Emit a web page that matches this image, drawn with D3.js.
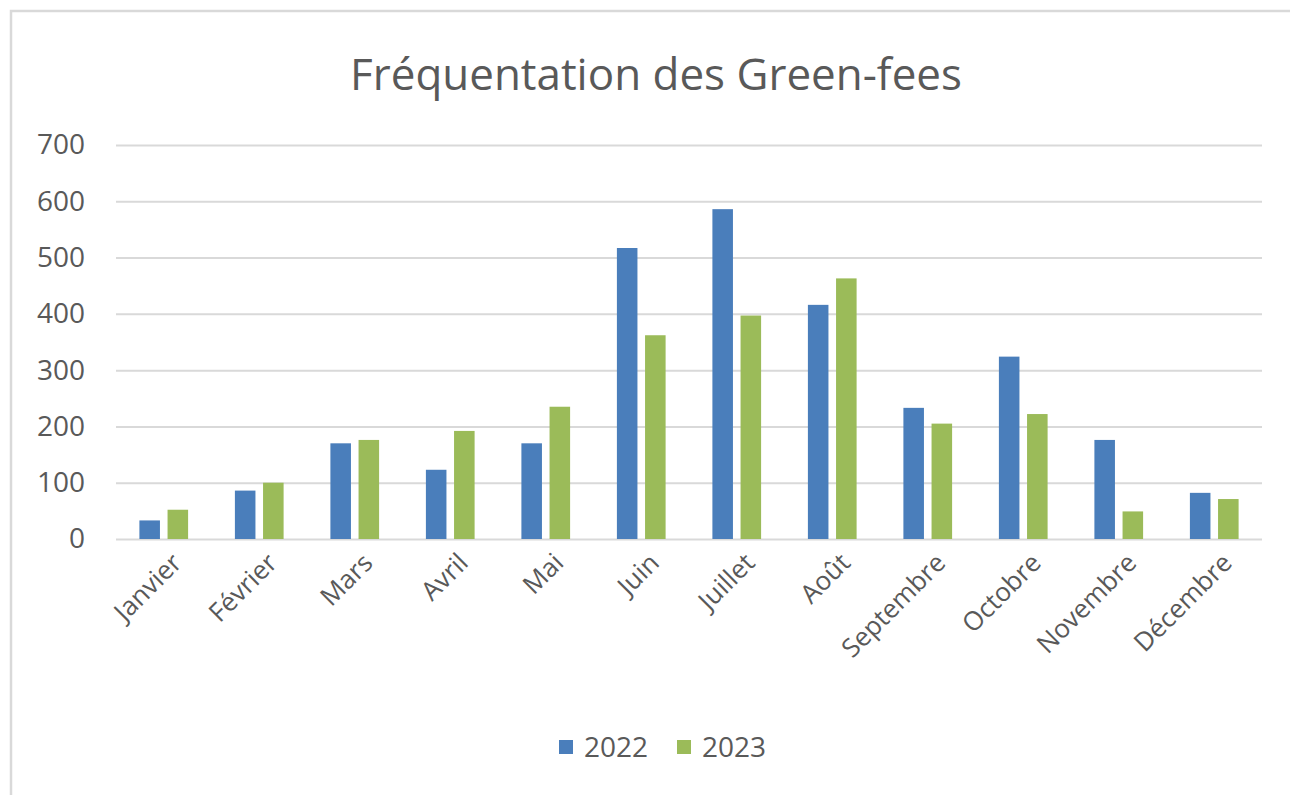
<!DOCTYPE html>
<html>
<head>
<meta charset="utf-8">
<script src="https://cdn.jsdelivr.net/npm/d3@7"></script>
<style>
  body { margin: 0; background: #fff; }
  text { font-family: "Open Sans", sans-serif; fill: #595959; }
</style>
</head>
<body>
<div id="chart"></div>
<script>
// Data
const MONTHS = ["Janvier", "Février", "Mars", "Avril", "Mai", "Juin",
                "Juillet", "Août", "Septembre", "Octobre", "Novembre", "Décembre"];
const SERIES = ["2022", "2023"];
const VALUES_2022 = [33, 86, 170, 123, 170, 517, 586, 416, 233, 324, 176, 82];
const VALUES_2023 = [52, 100, 176, 192, 235, 362, 397, 463, 205, 222, 49, 71];
const Y_TICKS = [0, 100, 200, 300, 400, 500, 600, 700];
const TITLE = "Fréquentation des Green-fees";

const COLORS = {"2022": "#4a7ebb", "2023": "#9bbb59"};

// Set variables
const FRAME_WIDTH = 1290;
const FRAME_HEIGHT = 795;
const MARGINS = {left: 116, right: 28, top: 145, bottom: 256};
const VIS_WIDTH = FRAME_WIDTH - MARGINS.left - MARGINS.right;
const VIS_HEIGHT = FRAME_HEIGHT - MARGINS.top - MARGINS.bottom;

const rows = MONTHS.map((m, i) => ({month: m, "2022": VALUES_2022[i], "2023": VALUES_2023[i]}));

const FRAME = d3.select("#chart")
                .append("svg")
                  .attr("width", FRAME_WIDTH)
                  .attr("height", FRAME_HEIGHT);

// chart border
FRAME.append("rect")
    .attr("x", 11).attr("y", 11)
    .attr("width", FRAME_WIDTH + 20).attr("height", FRAME_HEIGHT + 20)
    .attr("fill", "#fff")
    .attr("stroke", "#d9d9d9")
    .attr("stroke-width", 2.5);

const X_SCALE = d3.scaleBand()
                  .domain(MONTHS)
                  .range([0, VIS_WIDTH])
                  .paddingInner(0.49)
                  .paddingOuter(0.245);

const X_INNER = d3.scaleBand()
                  .domain(SERIES)
                  .range([0, X_SCALE.bandwidth()])
                  .paddingInner(0.27);

const Y_SCALE = d3.scaleLinear()
                  .domain([0, 700])
                  .range([VIS_HEIGHT, 0]);

const G = FRAME.append("g")
    .attr("transform", "translate(" + MARGINS.left + "," + MARGINS.top + ")");

// gridlines
G.append("g")
    .call(d3.axisLeft(Y_SCALE).tickValues(Y_TICKS).tickSize(-VIS_WIDTH).tickFormat(""))
    .call(g => g.select(".domain").remove())
    .selectAll("line")
      .attr("stroke", "#d9d9d9")
      .attr("stroke-width", 2);

// y labels
G.append("g")
    .call(d3.axisLeft(Y_SCALE).tickValues(Y_TICKS).tickSize(0).tickPadding(31))
    .call(g => g.select(".domain").remove())
    .selectAll("text")
      .attr("font-size", "28px")
      .style("font-family", "'Open Sans', sans-serif")
      .attr("fill", "#595959");

// bars
G.selectAll(".month")
    .data(rows)
    .enter()
    .append("g")
      .attr("transform", (d) => "translate(" + X_SCALE(d.month) + ",0)")
    .selectAll("rect")
    .data((d) => SERIES.map((s) => ({key: s, value: d[s]})))
    .enter()
    .append("rect")
      .attr("x", (d) => X_INNER(d.key))
      .attr("y", (d) => Y_SCALE(d.value))
      .attr("width", X_INNER.bandwidth())
      .attr("height", (d) => VIS_HEIGHT - Y_SCALE(d.value))
      .attr("fill", (d) => COLORS[d.key]);

// x labels
G.selectAll(".xlabel")
    .data(MONTHS)
    .enter()
    .append("text")
      .attr("class", "xlabel")
      .attr("transform", (d) => "translate(" + (X_SCALE(d) + X_SCALE.bandwidth() / 2 + 13) + "," + (VIS_HEIGHT + 19) + ") rotate(-45)")
      .attr("text-anchor", "end")
      .attr("dy", "0.35em")
      .attr("font-size", "26px")
      .text((d) => d);

// title
const title = FRAME.append("text")
    .attr("x", 656)
    .attr("y", 90)
    .attr("text-anchor", "middle")
    .attr("font-size", "40px")
    .text(TITLE);
const tw = title.node().getComputedTextLength();
title.attr("font-size", (40 * 612 / tw) + "px");

// legend
const legend = FRAME.append("g")
    .attr("transform", "translate(559,747)");
const item = legend.selectAll("g")
    .data(SERIES)
    .enter()
    .append("g")
      .attr("transform", (d, i) => "translate(" + (i * 118) + ",0)");
item.append("rect")
    .attr("x", 0).attr("y", -7)
    .attr("width", 14).attr("height", 14)
    .attr("fill", (d) => COLORS[d]);
item.append("text")
    .attr("x", 25)
    .attr("dy", "0.36em")
    .attr("font-size", "28px")
    .text((d) => d);
</script>
</body>
</html>
